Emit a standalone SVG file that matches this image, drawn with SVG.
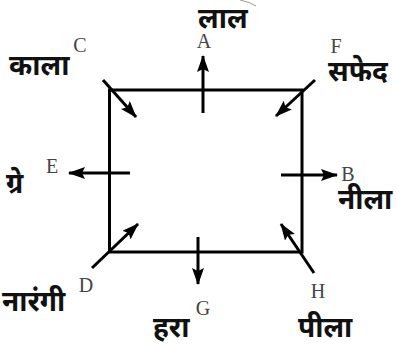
<svg xmlns="http://www.w3.org/2000/svg" width="396" height="344" viewBox="0 0 396 344">
<style>
.hi{font-family:"Noto Sans","Noto Sans Devanagari","DejaVu Sans",sans-serif;font-weight:bold;font-size:28px;fill:#111}
.lt{font-family:"Liberation Serif",serif;font-size:20px;fill:#444;text-anchor:middle}
.ln{stroke:#000;stroke-width:3;fill:none}
.ar{stroke:#000;stroke-width:3;fill:none;marker-end:url(#ah)}
</style>
<defs>
<marker id="ah" markerUnits="userSpaceOnUse" markerWidth="17" markerHeight="12" refX="16" refY="6" orient="auto" viewBox="0 0 17 12">
<path d="M0,0 L17,6 L0,12 L3,6 z" fill="#000"/>
</marker>
</defs>
<path d="M240,0 Q250,2 256,6" stroke="#999" stroke-width="1" fill="none"/>
<g id="square"><rect x="109.5" y="90" width="192.5" height="162" class="ln"/></g>
<g id="connectors">
<line x1="203" y1="113" x2="203" y2="56" class="ar"/>
<line x1="103" y1="80" x2="136" y2="117" class="ar"/>
<line x1="315" y1="80" x2="276" y2="116" class="ar"/>
<line x1="130" y1="173" x2="69" y2="173" class="ar"/>
<line x1="281" y1="175" x2="337" y2="175" class="ar"/>
<line x1="92" y1="268" x2="138" y2="224" class="ar"/>
<line x1="314" y1="273" x2="281" y2="224" class="ar"/>
<line x1="198" y1="237" x2="198" y2="284" class="ar"/>
</g>
<g id="nodeA"><text class="lt" x="204" y="48">A</text><text class="hi" x="198" y="28">लाल</text></g>
<g id="nodeC"><text class="lt" x="80" y="52">C</text><text class="hi" x="9" y="75">काला</text></g>
<g id="nodeF"><text class="lt" x="336" y="53">F</text><text class="hi" x="328" y="81">सफेद</text></g>
<g id="nodeE"><text class="lt" x="52" y="173">E</text><text class="hi" x="6" y="193">ग्रे</text></g>
<g id="nodeB"><text class="lt" x="348" y="181">B</text><text class="hi" x="338" y="209">नीला</text></g>
<g id="nodeD"><text class="lt" x="86" y="292">D</text><text class="hi" x="2" y="311">नारंगी</text></g>
<g id="nodeG"><text class="lt" x="203" y="315">G</text><text class="hi" x="153" y="337">हरा</text></g>
<g id="nodeH"><text class="lt" x="318" y="298">H</text><text class="hi" x="298" y="337">पीला</text></g>
</svg>
